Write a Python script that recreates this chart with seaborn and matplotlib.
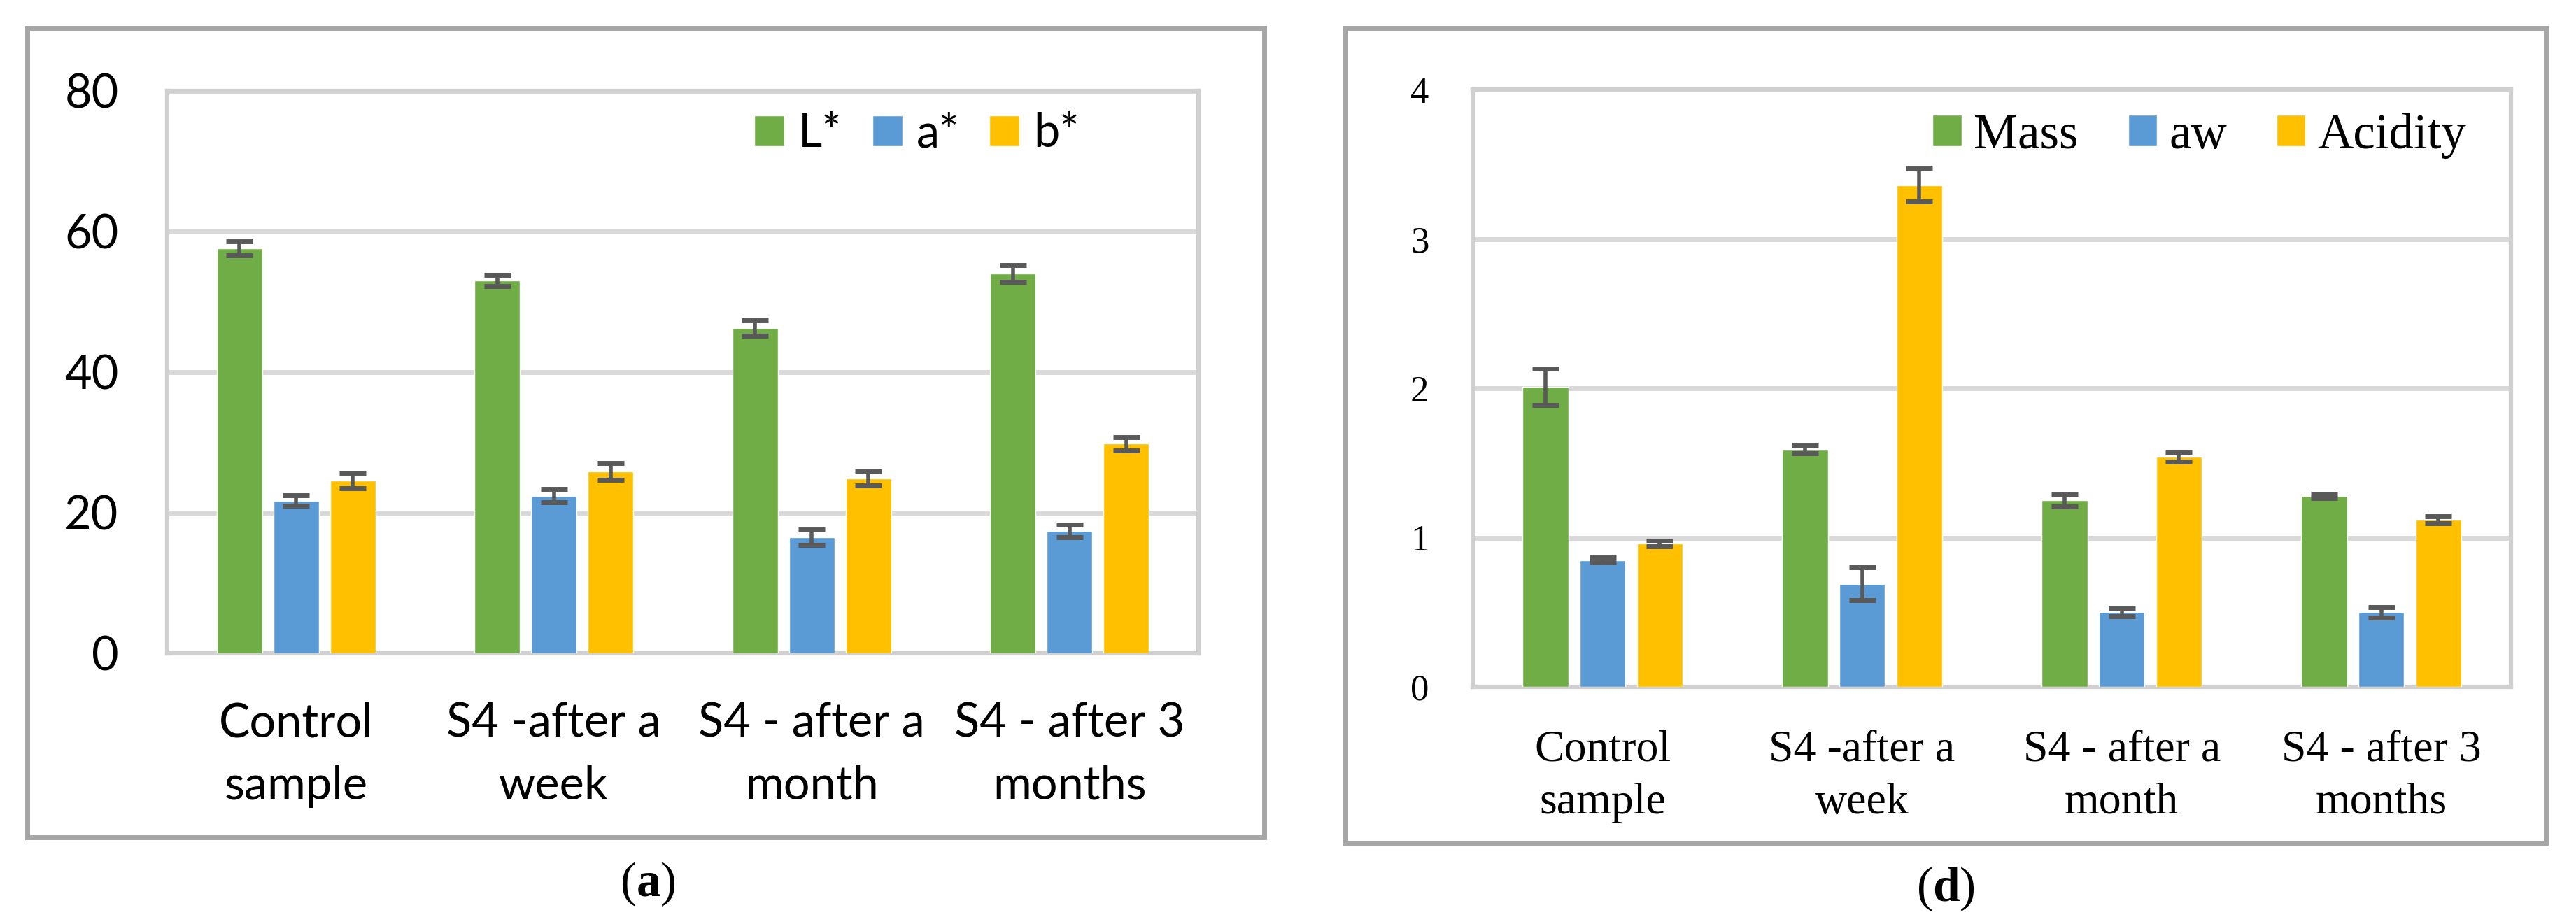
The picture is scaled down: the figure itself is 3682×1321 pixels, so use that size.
import numpy as np
import pandas as pd
import seaborn as sns
import matplotlib.pyplot as plt
from matplotlib.patches import Rectangle

# -----------------------------------------------------
# Data
# -----------------------------------------------------

categories = ["Control\nsample", "S4 -after a\nweek", "S4 - after a\nmonth", "S4 - after 3\nmonths"]

colour_series = ["L*", "a*", "b*"]
L_star = [57.6, 53.0, 46.3, 54.0]
L_star_err = [1.0, 0.8, 1.1, 1.2]
a_star = [21.7, 22.4, 16.5, 17.4]
a_star_err = [0.75, 0.95, 1.1, 0.9]
b_star = [24.6, 25.9, 24.9, 29.8]
b_star_err = [1.1, 1.2, 1.0, 0.9]

quality_series = ["Mass", "aw", "Acidity"]
mass = [2.01, 1.59, 1.25, 1.28]
mass_err = [0.12, 0.027, 0.04, 0.015]
aw = [0.85, 0.69, 0.50, 0.50]
aw_err = [0.015, 0.11, 0.025, 0.035]
acidity = [0.96, 3.36, 1.54, 1.12]
acidity_err = [0.02, 0.11, 0.03, 0.025]

palette = ["#70AD47", "#5B9BD5", "#FFC000"]


def long_form(series_names, values):
    rows = []
    for name, vals in zip(series_names, values):
        for cat, v in zip(categories, vals):
            rows.append({"category": cat, "series": name, "value": v})
    return pd.DataFrame(rows)


df_a = long_form(colour_series, [L_star, a_star, b_star])
df_d = long_form(quality_series, [mass, aw, acidity])

# -----------------------------------------------------
# Style
# -----------------------------------------------------

sns.set_theme(style="white")
plt.rcParams["text.color"] = "black"
plt.rcParams["xtick.labelcolor"] = "black"
plt.rcParams["ytick.labelcolor"] = "black"
plt.rcParams["mathtext.fontset"] = "custom"
plt.rcParams["mathtext.rm"] = "Liberation Serif"
plt.rcParams["mathtext.bf"] = "Liberation Serif:bold"

fig = plt.figure(figsize=(36.82, 13.21), dpi=100)


def draw_panel(ax, df, series_names, errs, ymax, ystep, font, tick_fs, xlab_fs, leg_fs,
               ypad, xpad, linesp, leg_anchor, handle, textpad, colspace):
    sns.barplot(data=df, x="category", y="value", hue="series", order=categories,
                hue_order=series_names, palette=palette, width=0.66, gap=0.2,
                errorbar=None, saturation=1, ax=ax, zorder=3)
    for cont, err in zip(ax.containers, errs):
        xs = [p.get_x() + p.get_width() / 2 for p in cont]
        ys = [p.get_height() for p in cont]
        ax.errorbar(xs, ys, yerr=err, fmt="none", ecolor="#595959", elinewidth=4,
                    capsize=14, capthick=5, zorder=4)

    ax.set_ylim(0, ymax)
    ax.set_xlim(-0.5, 3.5)
    ax.set_yticks(np.arange(0, ymax + ystep / 2, ystep))
    ax.yaxis.grid(True, color="#D9D9D9", linewidth=5)
    ax.set_axisbelow(True)
    for sp in ax.spines.values():
        sp.set_visible(True)
        sp.set_color("#D0D0D0")
        sp.set_linewidth(4.5)
    ax.set_xlabel("")
    ax.set_ylabel("")
    ax.tick_params(axis="y", length=0, pad=ypad, labelsize=tick_fs, labelcolor="black")
    ax.tick_params(axis="x", length=0, pad=xpad, labelsize=xlab_fs, labelcolor="black")
    for t in ax.get_yticklabels():
        t.set_family(font)
    for t in ax.get_xticklabels():
        t.set_family(font)
        t.set_linespacing(linesp)
        t.set_multialignment("center")

    handles, labels = ax.get_legend_handles_labels()
    ax.legend(handles, labels, loc="center", bbox_to_anchor=leg_anchor, ncol=3,
              frameon=False, prop={"family": font, "size": leg_fs},
              handlelength=handle, handleheight=handle, handletextpad=textpad,
              columnspacing=colspace, borderpad=0, borderaxespad=0)


# panel (a)
ax_a = fig.add_axes([0.0649, 0.2930, 0.4003, 0.6086])
draw_panel(ax_a, df_a, colour_series, [L_star_err, a_star_err, b_star_err], 80, 20,
           "Lato", 48, 48, 48, 50, 50, 1.55, (0.727, 0.924), 0.64, 0.3, 0.65)

# panel (d)
ax_d = fig.add_axes([0.5717, 0.2566, 0.4031, 0.6465])
draw_panel(ax_d, df_d, quality_series, [mass_err, aw_err, acidity_err], 4, 1,
           "Liberation Serif", 38, 46, 51, 45, 44, 1.4, (0.700, 0.923), 0.58, 0.25, 1.0)

# outer frames
for x0, y0, x1, y1 in [(39, 40, 1807, 1197), (1923, 40, 3639, 1205)]:
    fig.add_artist(Rectangle((x0 / 3682, 1 - y1 / 1321), (x1 - x0) / 3682, (y1 - y0) / 1321,
                             transform=fig.transFigure, fill=False,
                             edgecolor="#A6A6A6", linewidth=5))

# captions
fig.text(926 / 3682, 1 - 1264 / 1321, r"($\mathbf{a}$)", ha="center", va="center",
         fontsize=50, family="Liberation Serif")
fig.text(2781 / 3682, 1 - 1271 / 1321, r"($\mathbf{d}$)", ha="center", va="center",
         fontsize=50, family="Liberation Serif")

fig.savefig("out.png", dpi=100)
